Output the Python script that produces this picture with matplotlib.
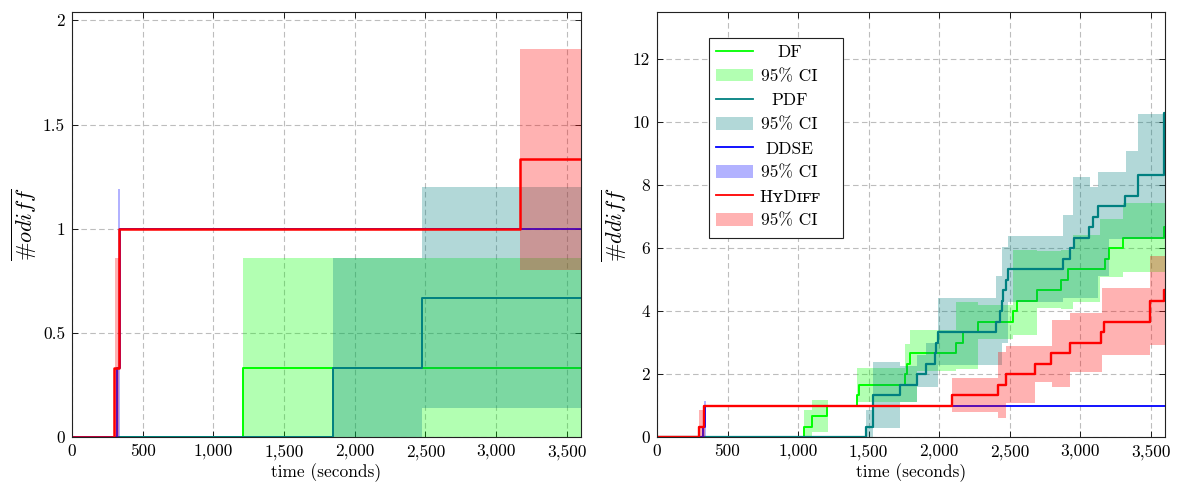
import numpy as np
import matplotlib
matplotlib.use('Agg')
import matplotlib.pyplot as plt
from matplotlib.lines import Line2D
from matplotlib.patches import Patch, Rectangle
from matplotlib.ticker import FuncFormatter
from matplotlib.mathtext import MathTextParser

plt.rcParams['font.family'] = ['cmr10', 'DejaVu Serif', 'DejaVu Sans']
plt.rcParams['mathtext.fontset'] = 'cm'
plt.rcParams['axes.formatter.use_mathtext'] = True
plt.rcParams['font.size'] = 12.5

T_END = 3600

# ---- left panel: #odiff (step means, then CI segments: start times, lower, upper)
odiff_df_t = [0, 1210]
odiff_df = [0, 0.333]
odiff_df_ci_t = [1210]
odiff_df_ci_lo = [0.0]
odiff_df_ci_hi = [0.86]

odiff_pdf_t = [0, 1845, 2478]
odiff_pdf = [0, 0.333, 0.667]
odiff_pdf_ci_t = [1845, 2478]
odiff_pdf_ci_lo = [0.0, 0.14]
odiff_pdf_ci_hi = [0.86, 1.2]

odiff_ddse_t = [0, 318, 338]
odiff_ddse = [0, 0.333, 1]
odiff_ddse_ci_t = [326, 341]
odiff_ddse_ci_lo = [0.0, 1.0]
odiff_ddse_ci_hi = [1.19, 1.0]

odiff_hy_t = [0, 300, 333, 3168]
odiff_hy = [0, 0.333, 1, 1.333]
odiff_hy_ci_t = [303, 333, 3168]
odiff_hy_ci_lo = [0.0, 1.0, 0.8]
odiff_hy_ci_hi = [0.86, 1.0, 1.86]

# ---- right panel: #ddiff
ddiff_df_t = [0, 1045, 1100, 1205, 1415, 1433, 1755, 1775, 1794, 2119, 2166, 2275,
              2526, 2550, 2691, 2863, 2915, 3173, 3204, 3303, 3593]
ddiff_df = [0, 0.333, 0.667, 1, 1.333, 1.667, 2, 2.333, 2.667, 3, 3.333, 3.667,
            4, 4.333, 4.667, 5, 5.333, 5.667, 6, 6.333, 6.667]
ddiff_df_ci_t = [1045, 1100, 1210, 1415, 1755, 1794, 1844, 2119, 2275, 2526, 2691,
                 2863, 2950, 3140, 3303]
ddiff_df_ci_lo = [0.0, 0.15, 1.0, 1.1, 1.1, 1.1, 2.1, 2.15, 3.1, 3.24, 4.1,
                  4.06, 4.3, 5.07, 5.25]
ddiff_df_ci_hi = [0.85, 1.18, 1.0, 2.2, 2.96, 3.4, 3.4, 4.3, 4.2, 5.94, 5.9,
                  5.94, 6.41, 6.94, 7.42]

ddiff_pdf_t = [0, 1480, 1530, 1720, 1844, 1907, 1970, 1980, 1993, 2402, 2431, 2445,
               2455, 2470, 2490, 2879, 2926, 2957, 3060, 3091, 3122, 3314, 3409, 3595]
ddiff_pdf = [0, 0.333, 1.333, 1.667, 2, 2.333, 2.667, 3, 3.333, 3.667, 4, 4.333,
             4.667, 5, 5.333, 5.667, 6, 6.333, 6.667, 7, 7.333, 7.667, 8.333, 10.3]
ddiff_pdf_ci_t = [1480, 1530, 1720, 1844, 1907, 1993, 2402, 2444, 2490, 2879, 2950,
                  3068, 3126, 3205, 3326, 3409]
ddiff_pdf_ci_lo = [0.0, 0.3, 1.1, 1.6, 1.6, 2.3, 2.3, 3.0, 4.3, 4.4, 4.4,
                   4.4, 5.1, 6.3, 6.3, 6.3]
ddiff_pdf_ci_hi = [0.86, 2.37, 2.25, 2.6, 3.0, 4.4, 5.1, 6.05, 6.38, 7.05, 8.26,
                   7.95, 8.42, 8.42, 9.09, 10.27]

ddiff_ddse_t = [0, 327, 343]
ddiff_ddse = [0, 0.333, 1]
ddiff_ddse_ci_t = [330, 345]
ddiff_ddse_ci_lo = [0.0, 1.0]
ddiff_ddse_ci_hi = [1.15, 1.0]

ddiff_hy_t = [0, 300, 335, 2091, 2416, 2472, 2679, 2792, 2927, 3143, 3166, 3496, 3593]
ddiff_hy = [0, 0.333, 1, 1.333, 1.667, 2, 2.333, 2.667, 3, 3.333, 3.667, 4.333, 4.667]
ddiff_hy_ci_t = [300, 340, 2091, 2420, 2472, 2680, 2798, 2928, 3152, 3493]
ddiff_hy_ci_lo = [0.0, 1.0, 0.8, 0.6, 1.09, 1.75, 1.6, 2.07, 2.6, 2.92]
ddiff_hy_ci_hi = [0.86, 1.0, 1.86, 2.7, 2.9, 2.9, 3.72, 3.93, 4.74, 5.75]

C_DF = '#00ff00'
C_PDF = '#008080'
C_DDSE = '#0000ff'
C_HY = '#ff0000'
ALPHA = 0.3


def overline_label(word):
    # mathtext is picky about \# inside \overline, try a few spellings
    parser = MathTextParser('path')
    for s in (r'$\overline{\#' + word + '}$', r'$\overline{{\#}' + word + '}$',
              r'$\overline{\mathrm{\#}' + word + '}$'):
        try:
            parser.parse(s)
            return s
        except Exception:
            pass
    return r'$\#' + word + '$'


def draw_series(ax, t, y, ci_t, lo, hi, color, lw):
    ax.step(t + [T_END], y + [y[-1]], where='post', color=color, lw=lw, zorder=2)
    ax.fill_between(ci_t + [T_END], lo + [lo[-1]], hi + [hi[-1]], step='post',
                    color=color, alpha=ALPHA, lw=0, zorder=2)


def style_axes(ax, ylim, yticks, ylabels, ylabel):
    ax.set_xlim(0, T_END)
    ax.set_ylim(*ylim)
    ax.set_xticks(np.arange(0, 3501, 500))
    ax.xaxis.set_major_formatter(FuncFormatter(lambda v, _: f'{int(v):,}'))
    ax.set_yticks(yticks)
    ax.set_yticklabels(ylabels)
    ax.grid(True, color='#bdbdbd', lw=0.8, linestyle=(0, (5, 3)), zorder=0)
    ax.set_axisbelow(True)
    ax.tick_params(direction='in', top=True, right=True, length=4, width=0.6,
                   labelsize=12.5, pad=5)
    for s in ax.spines.values():
        s.set_linewidth(0.8)
        s.set_color('#222222')
    ax.set_xlabel('time (seconds)', fontsize=12.5, labelpad=3)
    ax.set_ylabel(ylabel, fontsize=16, labelpad=3)


fig = plt.figure(figsize=(11.89, 4.86), dpi=100)
ax1 = fig.add_axes([72 / 1189, 49 / 486, 509 / 1189, 425 / 486])
ax2 = fig.add_axes([657 / 1189, 49 / 486, 508 / 1189, 425 / 486])

draw_series(ax1, odiff_df_t, odiff_df, odiff_df_ci_t, odiff_df_ci_lo, odiff_df_ci_hi, C_DF, 1.4)
draw_series(ax1, odiff_pdf_t, odiff_pdf, odiff_pdf_ci_t, odiff_pdf_ci_lo, odiff_pdf_ci_hi, C_PDF, 1.4)
draw_series(ax1, odiff_ddse_t, odiff_ddse, odiff_ddse_ci_t, odiff_ddse_ci_lo, odiff_ddse_ci_hi, C_DDSE, 1.3)
draw_series(ax1, odiff_hy_t, odiff_hy, odiff_hy_ci_t, odiff_hy_ci_lo, odiff_hy_ci_hi, C_HY, 1.8)
style_axes(ax1, (0, 2.04), [0, 0.5, 1, 1.5, 2], ['0', '0.5', '1', '1.5', '2'],
           overline_label('odiff'))

draw_series(ax2, ddiff_df_t, ddiff_df, ddiff_df_ci_t, ddiff_df_ci_lo, ddiff_df_ci_hi, C_DF, 1.4)
draw_series(ax2, ddiff_pdf_t, ddiff_pdf, ddiff_pdf_ci_t, ddiff_pdf_ci_lo, ddiff_pdf_ci_hi, C_PDF, 1.6)
draw_series(ax2, ddiff_ddse_t, ddiff_ddse, ddiff_ddse_ci_t, ddiff_ddse_ci_lo, ddiff_ddse_ci_hi, C_DDSE, 1.3)
draw_series(ax2, ddiff_hy_t, ddiff_hy, ddiff_hy_ci_t, ddiff_hy_ci_lo, ddiff_hy_ci_hi, C_HY, 1.7)
style_axes(ax2, (0, 13.5), list(range(0, 13, 2)), [str(v) for v in range(0, 13, 2)],
           overline_label('ddiff'))

handles = []
labels = []
for name, c in [('DF', C_DF), ('PDF', C_PDF), ('DDSE', C_DDSE), ('HʏDɪꜰꜰ', C_HY)]:
    handles.append(Line2D([], [], color=c, lw=1.3))
    labels.append(name)
    handles.append(Patch(facecolor=c, alpha=ALPHA, edgecolor='none'))
    labels.append('95% CI')

# legend frame drawn by hand (pgfplots box is wider than its contents)
ax2.add_patch(Rectangle((0.1024, 0.468), 0.2638, 0.4708, transform=ax2.transAxes,
                        facecolor='white', edgecolor='#222222', lw=0.8, zorder=4))
leg = ax2.legend(handles, labels, loc='upper left', bbox_to_anchor=(0.116, 0.922),
                 borderaxespad=0, frameon=False, fontsize=12.5, handlelength=2.15,
                 handletextpad=0.35, labelspacing=0.5, borderpad=0)
leg.set_zorder(5)

# centre the legend labels like the pgfplots legend
fig.canvas.draw()
texts = leg.get_texts()
widths = [t.get_window_extent().width for t in texts]
wmax = max(widths)
for t, w in zip(texts, widths):
    t.set_x((wmax - w) / 2)

fig.savefig('out.png', dpi=100)
